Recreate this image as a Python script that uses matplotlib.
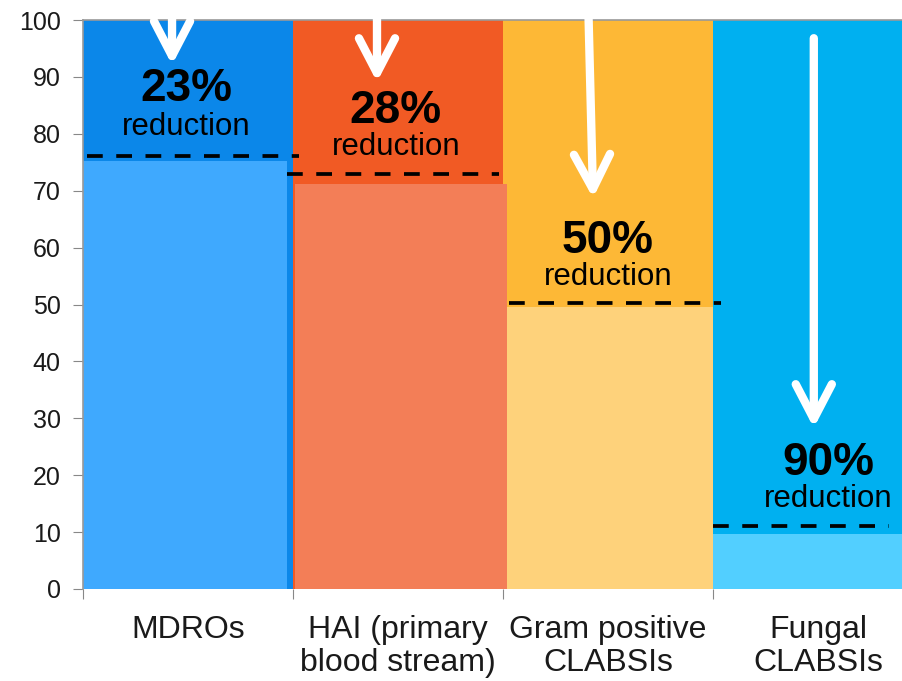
import matplotlib.pyplot as plt

plt.rcParams['font.family'] = ['Liberation Sans', 'DejaVu Sans']

# categories and values
categories = ["MDROs", "HAI (primary\nblood stream)", "Gram positive\nCLABSIs", "Fungal\nCLABSIs"]
full = [100, 100, 100, 100]
after = [75.2, 71.2, 49.6, 9.7]
before = [76.1, 73.0, 50.3, 11.1]
reduction = [23, 28, 50, 90]
yticks = [0, 10, 20, 30, 40, 50, 60, 70, 80, 90, 100]

dark = ["#0B87E9", "#F15A24", "#FDB836", "#00B0F0"]
light = ["#3FA9FE", "#F37E57", "#FED27B", "#52CFFF"]

# layout of the light bars and dashed baselines (category units)
light_left = [-0.01, 1.01, 2.02, 3.0]
light_width = [0.98, 1.01, 0.98, 1.0]
dash_span = [(0.02, 1.03), (0.97, 1.98), (2.03, 3.04), (3.0, 3.84)]

# arrows: (x start, y start, x tip, y tip)
arrows = [(0.424, 104, 0.424, 92.1),
          (1.40, 104, 1.40, 89.1),
          (2.405, 104, 2.429, 68.7),
          (3.48, 96.8, 3.48, 28.3)]
# label placement: (x, percent baseline, "reduction" baseline)
labels = [(0.49, 85.7, 79.8), (1.49, 81.9, 76.3), (2.5, 59.1, 53.4), (3.55, 20.0, 14.4)]


def main():
    fig = plt.figure(figsize=(9.02, 6.81), dpi=100)
    ax = fig.add_axes([83 / 902, 92 / 681, 819 / 902, 569 / 681])

    n = len(categories)
    ax.bar(range(n), full, width=1.0, align='edge', color=dark, zorder=1)
    ax.bar(light_left, after, width=light_width, align='edge', color=light, zorder=2)

    for (x0, x1), y in zip(dash_span, before):
        ax.hlines(y, x0, x1, colors='black', lw=2.7, linestyles=(0, (4.2, 3.6)), zorder=3)

    for (xs, ys, xt, yt) in arrows:
        ax.annotate('', xy=(xt, yt), xytext=(xs, ys), annotation_clip=False,
                    arrowprops=dict(arrowstyle='->,head_length=1.25,head_width=0.65',
                                    lw=6, color='white', mutation_scale=20,
                                    shrinkA=0, shrinkB=0, capstyle='round',
                                    joinstyle='round'), zorder=4)

    for (x, yp, yr), r in zip(labels, reduction):
        ax.text(x, yp, "%d%%" % r, ha='center', va='baseline', fontsize=33,
                fontweight='bold', color='black', zorder=5)
        ax.text(x, yr, "reduction", ha='center', va='baseline', fontsize=22.5,
                color='black', zorder=5)

    ax.set_xlim(0, 3.9)
    ax.set_ylim(0, 100)
    ax.set_yticks(yticks)
    ax.tick_params(axis='y', labelsize=18, length=7, color='#888888',
                   labelcolor='#1a1a1a', pad=9)

    ax.set_xticks([0, 1, 2, 3])
    ax.set_xticklabels([])
    ax.set_xticks([i + 0.5 for i in range(n)], minor=True)
    ax.set_xticklabels(categories, minor=True, fontsize=23, color='#1a1a1a',
                       linespacing=1.1)
    ax.tick_params(axis='x', which='major', length=7, color='#888888')
    ax.tick_params(axis='x', which='minor', length=0, pad=19)

    for side in ['left', 'top']:
        ax.spines[side].set_color('#999999')
        ax.spines[side].set_linewidth(1.2)
    ax.spines['right'].set_visible(False)
    ax.spines['bottom'].set_visible(False)

    fig.savefig("out.png", dpi=100)


if __name__ == "__main__":
    main()
